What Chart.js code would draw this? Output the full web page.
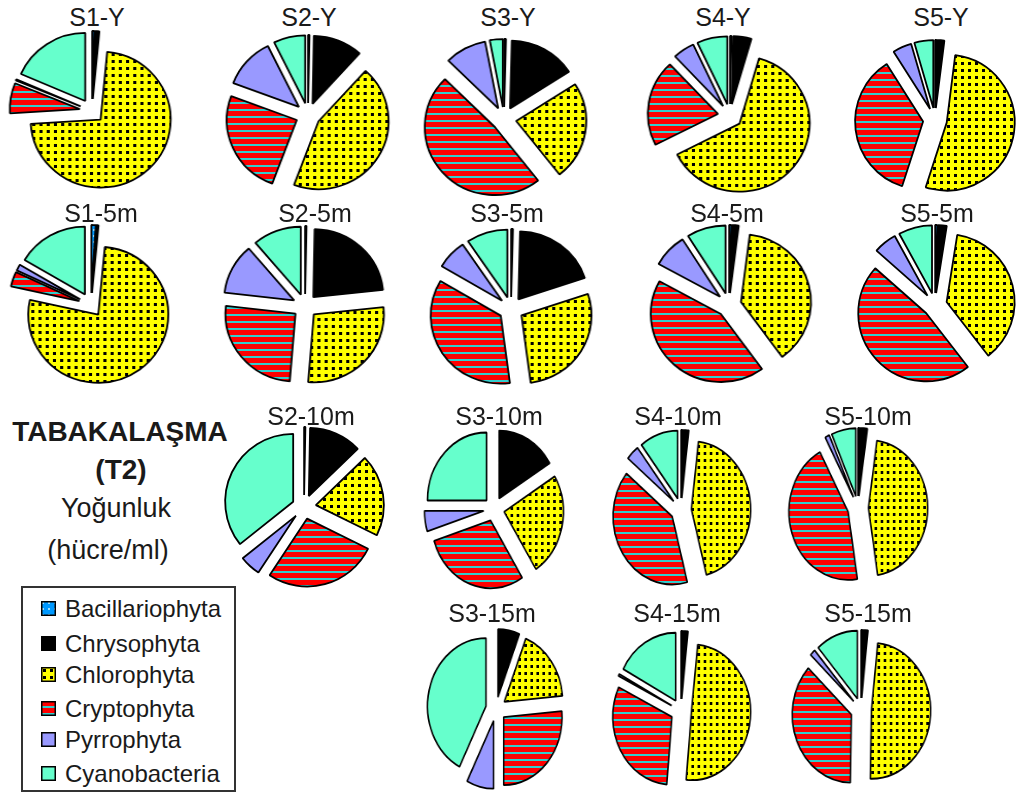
<!DOCTYPE html>
<html lang="tr">
<head>
<meta charset="UTF-8">
<title>Tabakalaşma (T2) - Yoğunluk</title>
<script src="https://cdn.jsdelivr.net/npm/chart.js"></script>
<style>
  body { margin: 0; background: #fff; font-family: "Liberation Sans", Arial, sans-serif; color: #1a1a1a; }
  #page { position: relative; width: 1025px; height: 796px; overflow: hidden; background: #fff; }
  .pie { position: absolute; transform-origin: 50% 50%; }
  .ttl { position: absolute; width: 140px; text-align: center; font-size: 25px; line-height: 25px; white-space: nowrap; }
  .side { position: absolute; width: 240px; text-align: center; white-space: nowrap; }
  #legend { position: absolute; left: 21px; top: 586px; width: 211px; height: 202px; border: 2px solid #333; }
  .lg-row { position: absolute; left: 0; height: 30px; }
  .lg-row canvas { position: absolute; left: 18px; top: 7px; }
  .lg-row span { position: absolute; left: 42px; top: 2px; font-size: 24px; line-height: 26px; white-space: nowrap; }
</style>
</head>
<body>
<div id="page">
  <div class="side" style="left:0px;top:418px;font-size:28px;line-height:28px;font-weight:bold;">TABAKALAŞMA</div>
  <div class="side" style="left:1px;top:456px;font-size:28px;line-height:28px;font-weight:bold;">(T2)</div>
  <div class="side" style="left:-4px;top:495px;font-size:27px;line-height:27px;">Yoğunluk</div>
  <div class="side" style="left:-12px;top:537px;font-size:27px;line-height:27px;">(hücre/ml)</div>
  <div id="legend"></div>
</div>

<script>
  // algae groups, in slice order (clockwise from 12 o'clock)
  const groups = ['Bacillariophyta', 'Chrysophyta', 'Chlorophyta', 'Cryptophyta', 'Pyrrophyta', 'Cyanobacteria'];

  const stations = ['S1-Y', 'S2-Y', 'S3-Y', 'S4-Y', 'S5-Y',
                    'S1-5m', 'S2-5m', 'S3-5m', 'S4-5m', 'S5-5m',
                    'S2-10m', 'S3-10m', 'S4-10m', 'S5-10m',
                    'S3-15m', 'S4-15m', 'S5-15m'];

  // share of each group (%) per station/depth
  const s1Y    = [0.5, 1.0, 72.5, 7.2, 0.3, 18.5];
  const s2Y    = [0.3, 11.4, 44.0, 25.0, 12.0, 7.3];
  const s3Y    = [0.4, 15.5, 23.5, 48.0, 9.6, 3.0];
  const s4Y    = [0.3, 4.2, 63.0, 20.5, 5.0, 7.0];
  const s5Y    = [0.3, 1.7, 53.0, 36.0, 4.5, 4.5];
  const s1_5m  = [1.0, 0.5, 77.0, 3.5, 1.5, 16.5];
  const s2_5m  = [0.3, 23.0, 28.0, 25.5, 12.0, 11.2];
  const s3_5m  = [0.4, 19.5, 28.0, 35.6, 7.0, 9.5];
  const s4_5m  = [0.5, 1.5, 38.0, 43.0, 8.0, 9.0];
  const s5_5m  = [0.5, 2.0, 37.0, 47.0, 5.5, 8.0];
  const s2_10m = [0.3, 12.5, 19.5, 27.0, 5.0, 35.7];
  const s3_10m = [0.0, 16.3, 24.7, 29.1, 4.9, 25.0];
  const s4_10m = [0.3, 1.6, 44.0, 40.0, 3.6, 10.5];
  const s5_10m = [0.3, 2.0, 45.2, 44.6, 1.2, 6.7];
  const s3_15m = [0.0, 6.0, 17.6, 26.4, 7.5, 42.5];
  const s4_15m = [0.3, 1.4, 49.7, 30.8, 0.5, 17.3];
  const s5_15m = [0.3, 1.4, 48.6, 36.7, 1.5, 11.5];

  const values = [s1Y, s2Y, s3Y, s4Y, s5Y,
                  s1_5m, s2_5m, s3_5m, s4_5m, s5_5m,
                  s2_10m, s3_10m, s4_10m, s5_10m,
                  s3_15m, s4_15m, s5_15m];

  // page placement: pie centre x, y, title centre x, y, horizontal squeeze
  const layout = [
    [92, 111, 97, 17, 1.03], [308, 115, 309, 17, 1.03], [504, 119, 508, 17, 1.03], [730, 116, 723, 17, 1.03], [935, 120, 941, 17, 1.0],
    [91, 305, 101, 213, 1.03], [305, 306, 315, 213, 1.03], [511, 309, 507, 213, 1.03], [729, 305, 727, 213, 1.03], [935, 305, 937, 213, 1.0],
    [304, 507, 311, 416, 1.0], [494, 509, 499, 416, 0.87], [681, 510, 678, 416, 0.87], [858, 508, 868, 416, 0.87],
    [496, 709, 492, 613, 0.86], [681, 711, 677, 613, 0.87], [861, 710, 868, 613, 0.87]
  ];

  const PIE_R = 68;
  const EXPLODE = 12;
  const BOX = 190;

  // pull every slice out along its bisector without changing its radius
  const explodePlugin = {
    id: 'explode',
    afterDatasetUpdate(chart, args) {
      const area = chart.chartArea;
      const cx = (area.left + area.right) / 2;
      const cy = (area.top + area.bottom) / 2;
      args.meta.data.forEach(arc => {
        const mid = (arc.startAngle + arc.endAngle) / 2;
        arc.x = cx + Math.cos(mid) * EXPLODE;
        arc.y = cy + Math.sin(mid) * EXPLODE;
      });
    }
  };

  function makeFills(ctx) {
    const tile = (w, h, draw) => {
      const c = document.createElement('canvas');
      c.width = w; c.height = h;
      draw(c.getContext('2d'));
      return ctx.createPattern(c, 'repeat');
    };
    const bacil = tile(6, 6, g => {
      g.fillStyle = '#0099ff'; g.fillRect(0, 0, 6, 6);
      g.fillStyle = '#99ddff'; g.fillRect(1, 1, 2, 2);
    });
    const chloro = tile(7, 7, g => {
      g.fillStyle = '#ffff00'; g.fillRect(0, 0, 7, 7);
      g.fillStyle = '#000'; g.fillRect(2, 2, 3, 3);
    });
    const crypto = tile(7, 7, g => {
      g.fillStyle = '#ff0000'; g.fillRect(0, 0, 7, 7);
      g.fillStyle = '#33cccc'; g.fillRect(0, 5, 7, 2);
    });
    return [bacil, '#000000', chloro, crypto, '#9999ff', '#66ffcc'];
  }

  const page = document.getElementById('page');

  stations.forEach((name, i) => {
    const [cx, cy, tx, ty, sx] = layout[i];

    const t = document.createElement('div');
    t.className = 'ttl';
    t.textContent = name;
    t.style.left = (tx - 70) + 'px';
    t.style.top = (ty - 12) + 'px';
    page.appendChild(t);

    const cv = document.createElement('canvas');
    cv.className = 'pie';
    cv.width = BOX; cv.height = BOX;
    cv.style.left = (cx - BOX / 2) + 'px';
    cv.style.top = (cy - BOX / 2) + 'px';
    cv.style.transform = 'scaleX(' + sx + ')';
    page.appendChild(cv);

    const ctx = cv.getContext('2d');
    new Chart(ctx, {
      type: 'pie',
      data: {
        labels: groups,
        datasets: [{
          data: values[i],
          backgroundColor: makeFills(ctx),
          borderColor: '#000',
          borderWidth: 1.8,
          radius: PIE_R
        }]
      },
      options: {
        responsive: false,
        animation: false,
        events: [],
        layout: { padding: 0 },
        plugins: { legend: { display: false }, tooltip: { enabled: false } }
      },
      plugins: [explodePlugin]
    });
  });

  // legend box
  const legendEl = document.getElementById('legend');
  const rowTops = [6, 41, 72, 106, 137, 171];
  groups.forEach((g, i) => {
    const row = document.createElement('div');
    row.className = 'lg-row';
    row.style.top = rowTops[i] + 'px';
    const sw = document.createElement('canvas');
    sw.width = 15; sw.height = 15;
    const sctx = sw.getContext('2d');
    sctx.fillStyle = makeFills(sctx)[i];
    sctx.fillRect(0, 0, 15, 15);
    sctx.strokeStyle = '#000';
    sctx.lineWidth = 1.5;
    sctx.strokeRect(0.75, 0.75, 13.5, 13.5);
    const lbl = document.createElement('span');
    lbl.textContent = g;
    row.appendChild(sw);
    row.appendChild(lbl);
    legendEl.appendChild(row);
  });
</script>
</body>
</html>
